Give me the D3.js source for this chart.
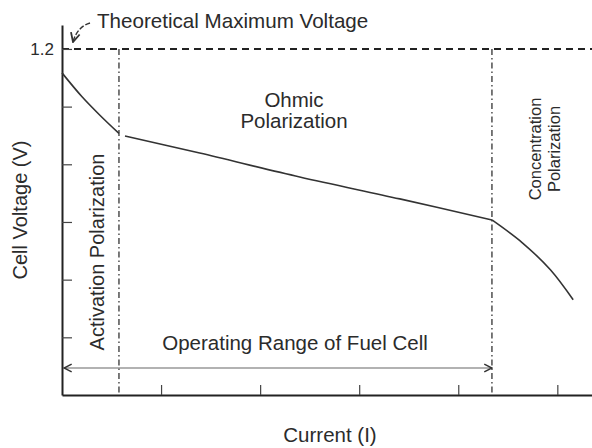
<!DOCTYPE html>
<html>
<head>
<meta charset="utf-8">
<script src="https://cdn.jsdelivr.net/npm/d3@7"></script>
<style>
  body { margin: 0; background: #fff; }
  svg { display: block; font-family: "Liberation Sans", Arial, sans-serif; }
  text { fill: #2b2b2b; }
</style>
</head>
<body>
<div id="chart"></div>
<script>
// polarization curve (current in tick units, voltage in V)
var current = [0, 0.20, 0.38, 0.575, 0.636, 1.39, 2.40, 3.41, 4.34, 4.65, 4.93, 5.16];
var voltage = [1.117, 1.035, 0.971, 0.907, 0.898, 0.839, 0.756, 0.680, 0.607, 0.527, 0.434, 0.330];

var yTicks = [0.2, 0.4, 0.6, 0.8, 1.0, 1.2];
var xTicks = [1, 2, 3, 4, 5];
var vMax = 1.2;                    // theoretical maximum voltage
var regionBounds = [0.575, 4.34];  // activation | ohmic | concentration
var operatingRange = [0.02, 4.34];

var width = 592, height = 448;
var margin = { top: 25, right: 0, bottom: 53, left: 62 };

var svg = d3.select('#chart').append('svg')
    .attr('width', width)
    .attr('height', height);

var x = d3.scaleLinear().domain([0, 5.35]).range([margin.left, width - margin.right]);
var y = d3.scaleLinear().domain([0, 1.283]).range([height - margin.bottom, margin.top]);

var defs = svg.append('defs');
defs.append('marker')
    .attr('id', 'head')
    .attr('viewBox', '0 0 10 10')
    .attr('refX', 9).attr('refY', 5)
    .attr('markerWidth', 8).attr('markerHeight', 8)
    .attr('orient', 'auto-start-reverse')
    .append('path')
    .attr('d', 'M1,1 L9,5 L1,9')
    .attr('fill', 'none')
    .attr('stroke', '#333')
    .attr('stroke-width', 1.6);

// theoretical max line
svg.append('line')
    .attr('x1', x(0)).attr('x2', x.range()[1])
    .attr('y1', y(vMax)).attr('y2', y(vMax))
    .attr('stroke', '#222')
    .attr('stroke-width', 2)
    .attr('stroke-dasharray', '7,5');

// region boundaries
svg.selectAll('.bound')
    .data(regionBounds)
    .enter()
    .append('line')
    .attr('class', 'bound')
    .attr('x1', function(d) { return x(d); })
    .attr('x2', function(d) { return x(d); })
    .attr('y1', y(vMax))
    .attr('y2', y(0))
    .attr('stroke', '#333')
    .attr('stroke-width', 1.3)
    .attr('stroke-dasharray', '6,3,1.5,3');

// axes
var yAxis = svg.append('g')
    .attr('transform', 'translate(' + x(0) + ',0)')
    .call(d3.axisLeft(y)
        .tickValues(yTicks)
        .tickSize(-10)
        .tickSizeOuter(0)
        .tickPadding(8)
        .tickFormat(function(d) { return d === vMax ? '1.2' : ''; }));

var xAxis = svg.append('g')
    .attr('transform', 'translate(0,' + y(0) + ')')
    .call(d3.axisBottom(x)
        .tickValues(xTicks)
        .tickSize(-10)
        .tickSizeOuter(0)
        .tickFormat(''));

[yAxis, xAxis].forEach(function(a) {
    a.select('.domain').attr('stroke', '#222').attr('stroke-width', 2);
    a.selectAll('.tick line').attr('stroke', '#444').attr('stroke-width', 1.2);
});
yAxis.selectAll('.tick text')
    .style('font-size', '17px')
    .attr('fill', '#2b2b2b')
    .style('font-family', '"Liberation Sans", Arial, sans-serif');

// polarization curve, one piece per region so the kinks stay sharp
var pts = d3.zip(current, voltage);
var segments = [
    pts.filter(function(d) { return d[0] <= regionBounds[0]; }),
    pts.filter(function(d) { return d[0] > regionBounds[0] && d[0] <= regionBounds[1]; }),
    pts.filter(function(d) { return d[0] >= regionBounds[1]; })
];

var line = d3.line()
    .x(function(d) { return x(d[0]); })
    .y(function(d) { return y(d[1]); })
    .curve(d3.curveCatmullRom);

svg.selectAll('.curve')
    .data(segments)
    .enter()
    .append('path')
    .attr('class', 'curve')
    .attr('d', line)
    .attr('fill', 'none')
    .attr('stroke', '#333')
    .attr('stroke-width', 1.6);

// operating range arrow
svg.append('line')
    .attr('x1', x(operatingRange[0])).attr('x2', x(operatingRange[1]))
    .attr('y1', 368).attr('y2', 368)
    .attr('stroke', '#666')
    .attr('stroke-width', 1.2)
    .attr('marker-start', 'url(#head)')
    .attr('marker-end', 'url(#head)');

// title pointer
svg.append('path')
    .attr('d', 'M90,23 Q77,27 73,42')
    .attr('fill', 'none')
    .attr('stroke', '#333')
    .attr('stroke-width', 1.4)
    .attr('stroke-dasharray', '5,2')
    .attr('marker-end', 'url(#head)');

svg.append('text')
    .attr('x', 97).attr('y', 28)
    .style('font-size', '20.6px')
    .text('Theoretical Maximum Voltage');

svg.append('text')
    .attr('text-anchor', 'middle')
    .style('font-size', '20.5px')
    .selectAll('tspan')
    .data(['Ohmic', 'Polarization'])
    .enter()
    .append('tspan')
    .attr('x', 294)
    .attr('y', function(d, i) { return 107 + i * 21; })
    .text(function(d) { return d; });

svg.append('text')
    .attr('transform', 'translate(104,252) rotate(-90)')
    .attr('text-anchor', 'middle')
    .style('font-size', '20px')
    .text('Activation Polarization');

svg.append('text')
    .attr('transform', 'translate(541,149) rotate(-90)')
    .attr('text-anchor', 'middle')
    .style('font-size', '16.5px')
    .selectAll('tspan')
    .data(['Concentration', 'Polarization'])
    .enter()
    .append('tspan')
    .attr('x', 0)
    .attr('y', function(d, i) { return i * 19; })
    .text(function(d) { return d; });

svg.append('text')
    .attr('x', 295).attr('y', 350)
    .attr('text-anchor', 'middle')
    .style('font-size', '20.5px')
    .text('Operating Range of Fuel Cell');

svg.append('text')
    .attr('transform', 'translate(27,210) rotate(-90)')
    .attr('text-anchor', 'middle')
    .style('font-size', '20px')
    .text('Cell Voltage (V)');

svg.append('text')
    .attr('x', 330).attr('y', 442)
    .attr('text-anchor', 'middle')
    .style('font-size', '20.5px')
    .text('Current (I)');
</script>
</body>
</html>
